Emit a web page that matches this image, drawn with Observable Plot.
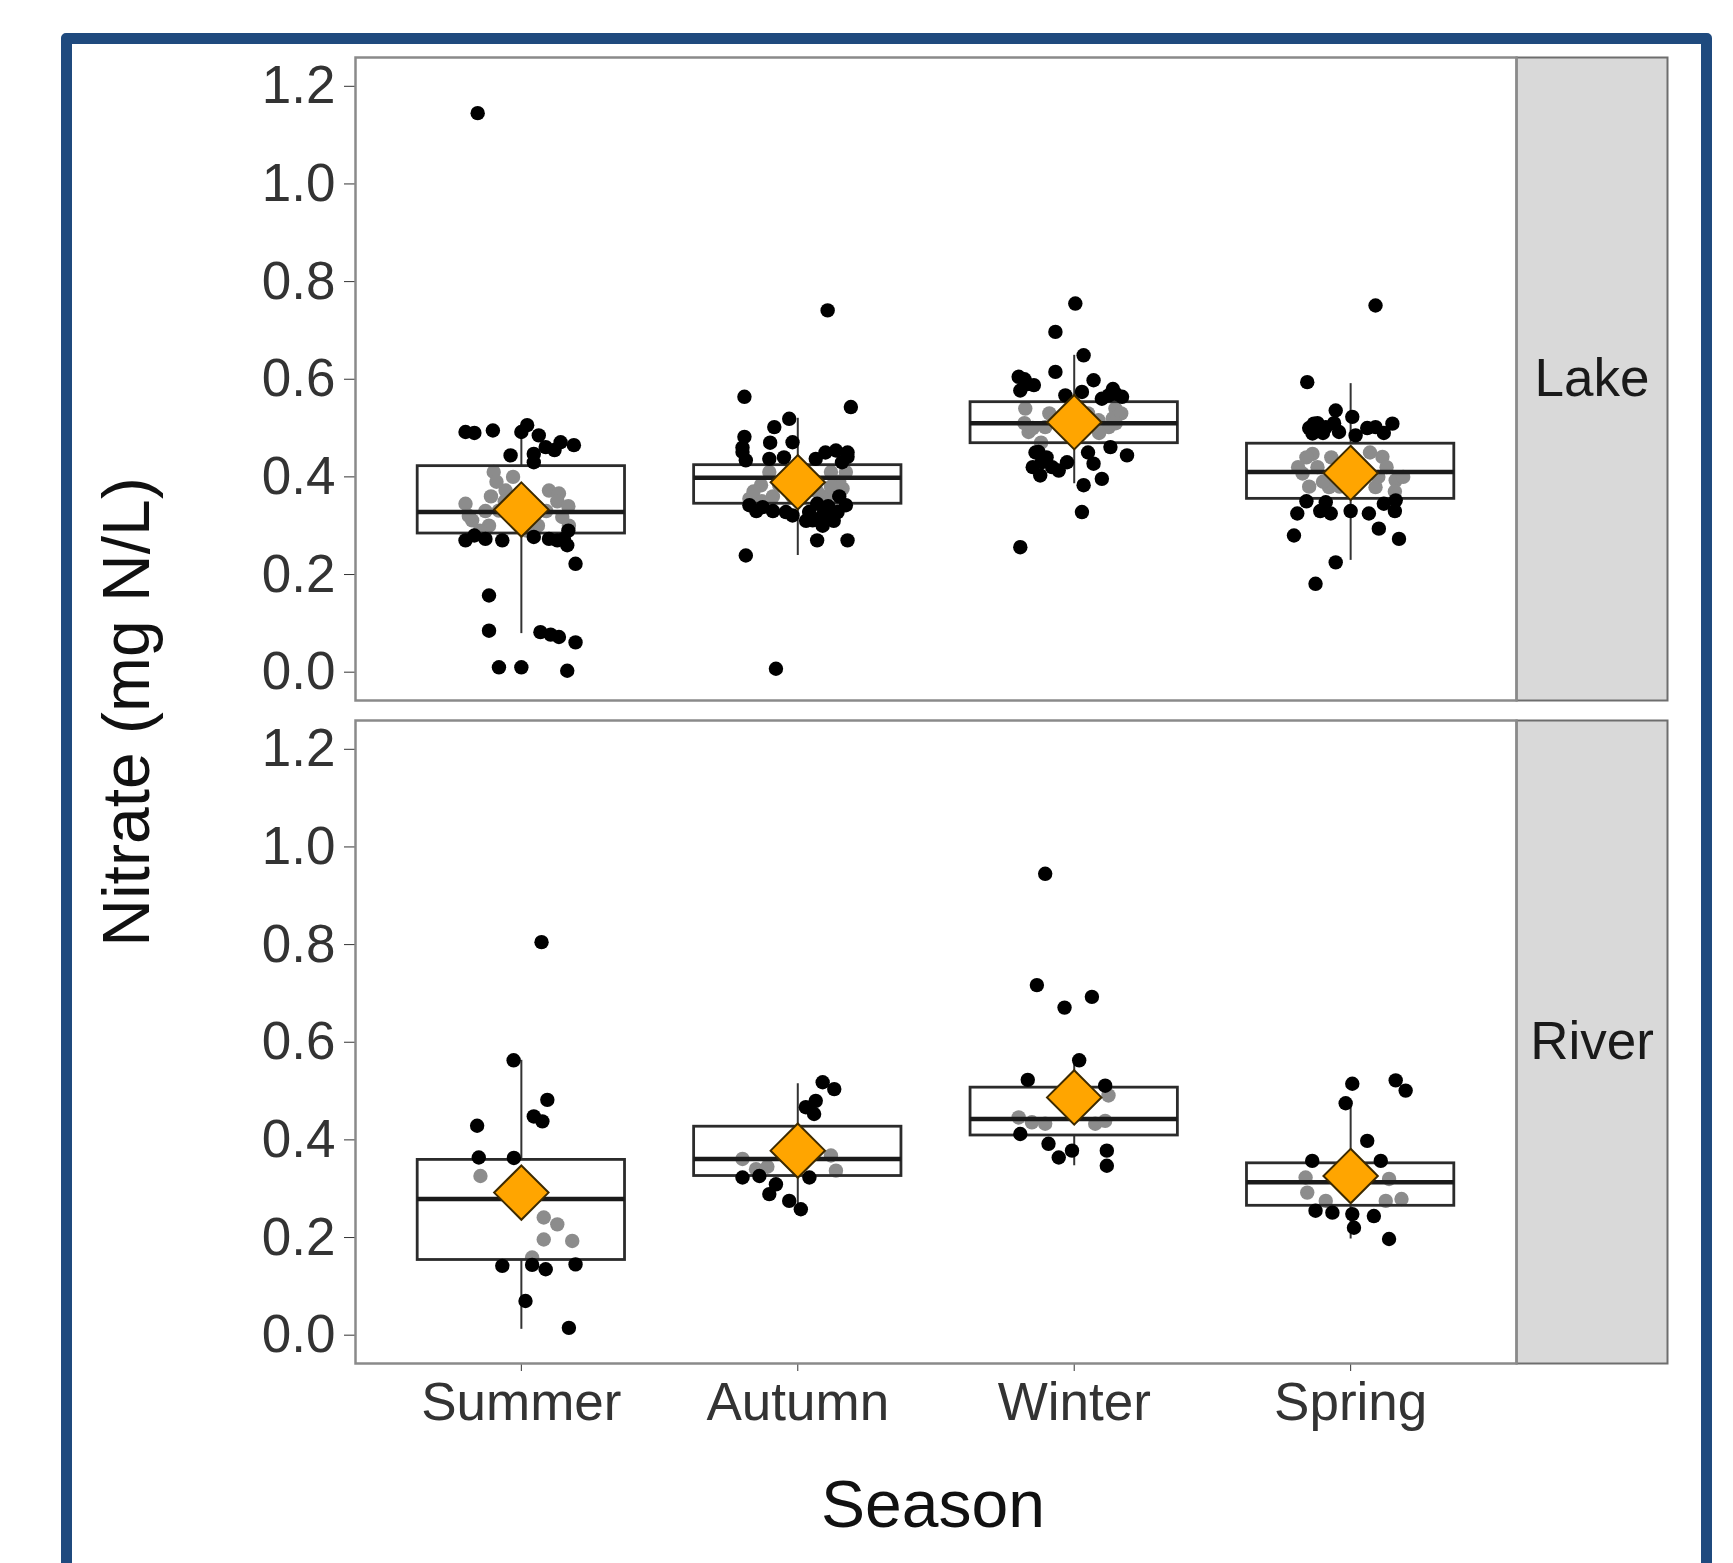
<!DOCTYPE html>
<html><head><meta charset="utf-8">
<script src="https://cdn.jsdelivr.net/npm/d3@7"></script>
<script src="https://cdn.jsdelivr.net/npm/@observablehq/plot@0.6"></script>
<style>
html,body{margin:0;padding:0;background:#fff;}
#wrap{position:relative;width:1733px;height:1563px;overflow:hidden;background:#fff;}
#chart{position:absolute;left:0;top:0;}
#border{position:absolute;left:61px;top:33px;width:1651px;height:1620px;border:11px solid #1f4a7e;border-radius:5px;box-sizing:border-box;pointer-events:none;}
</style></head>
<body><div id="wrap"><div id="chart"></div><div id="border"></div></div>
<script>
const sites = ["Lake", "River"];
const seasons = ["Summer", "Autumn", "Winter", "Spring"];
const yTicks = [0, 0.2, 0.4, 0.6, 0.8, 1.0, 1.2];

// Box statistics, in season order
const lakeQ1 = [0.284, 0.345, 0.469, 0.355];
const lakeMedian = [0.328, 0.398, 0.510, 0.410];
const lakeQ3 = [0.422, 0.424, 0.553, 0.468];
const lakeWhiskerLow = [0.079, 0.239, 0.386, 0.229];
const lakeWhiskerHigh = [0.492, 0.520, 0.649, 0.591];
const lakeMean = [0.333, 0.389, 0.512, 0.408];
const riverQ1 = [0.154, 0.326, 0.409, 0.265];
const riverMedian = [0.279, 0.361, 0.443, 0.313];
const riverQ3 = [0.359, 0.427, 0.507, 0.352];
const riverWhiskerLow = [0.012, 0.258, 0.347, 0.197];
const riverWhiskerHigh = [0.563, 0.515, 0.563, 0.475];
const riverMean = [0.292, 0.378, 0.487, 0.326];

// Jittered observations: [horizontal jitter (in category units), nitrate]
const lakeSummerBlack = [[-0.158,1.145],[-0.202,0.492],[-0.103,0.495],[0.021,0.506],[0.063,0.485],[0.0,0.492],[0.088,0.461],[0.142,0.471],[0.19,0.465],[0.12,0.455],[-0.17,0.49],[0.045,0.447],[-0.039,0.444],[0.045,0.430],[-0.202,0.270],[-0.130,0.273],[-0.069,0.270],[0.045,0.277],[0.1,0.273],[0.154,0.273],[0.166,0.260],[-0.17,0.28],[0.13,0.27],[0.17,0.29],[0.196,0.222],[-0.117,0.157],[-0.117,0.085],[0.069,0.082],[0.106,0.077],[0.136,0.072],[0.196,0.061],[-0.081,0.010],[0.0,0.010],[0.166,0.003]];
const lakeSummerGray = [[-0.1,0.41],[-0.202,0.345],[0.1,0.372],[0.136,0.366],[0.148,0.318],[0.172,0.30],[-0.178,0.311],[-0.117,0.30],[-0.057,0.372],[-0.081,0.331],[-0.06,0.35],[-0.13,0.33],[0.13,0.35],[0.06,0.30],[-0.15,0.29],[0.02,0.29],[-0.09,0.39],[-0.03,0.40],[0.09,0.33],[-0.11,0.36],[0.17,0.34],[-0.19,0.32]];
const lakeAutumnBlack = [[0.108,0.741],[-0.193,0.564],[0.192,0.543],[-0.085,0.502],[-0.031,0.519],[-0.193,0.482],[-0.1,0.47],[-0.019,0.471],[-0.2,0.451],[-0.2,0.46],[-0.188,0.434],[-0.103,0.437],[0.138,0.454],[0.18,0.45],[0.180,0.441],[0.065,0.437],[0.1,0.45],[-0.05,0.44],[0.16,0.43],[-0.175,0.342],[-0.127,0.338],[-0.09,0.33],[-0.043,0.328],[-0.019,0.321],[0.03,0.31],[0.054,0.311],[0.09,0.30],[0.09,0.321],[0.13,0.31],[0.11,0.34],[0.144,0.328],[0.174,0.342],[0.041,0.328],[0.12,0.33],[0.15,0.36],[-0.15,0.33],[0.07,0.345],[0.07,0.270],[0.18,0.270],[-0.188,0.239],[-0.079,0.007]];
const lakeAutumnGray = [[-0.175,0.355],[-0.133,0.383],[-0.103,0.41],[0.12,0.41],[0.162,0.376],[0.102,0.359],[0.174,0.41],[-0.067,0.383],[-0.16,0.37],[0.15,0.39],[-0.09,0.36],[-0.13,0.35],[0.07,0.37],[0.12,0.38],[-0.02,0.36]];
const lakeWinterBlack = [[0.004,0.755],[-0.068,0.697],[0.034,0.649],[-0.068,0.615],[-0.201,0.605],[-0.18,0.6],[-0.146,0.588],[-0.195,0.577],[0.07,0.598],[-0.032,0.567],[0.028,0.574],[0.125,0.567],[0.14,0.58],[0.173,0.564],[-0.17,0.59],[0.15,0.57],[0.1,0.56],[-0.129,0.451],[-0.14,0.45],[-0.117,0.43],[0.131,0.461],[0.191,0.444],[-0.026,0.43],[-0.056,0.413],[-0.08,0.42],[-0.123,0.403],[0.07,0.427],[0.1,0.396],[0.034,0.383],[-0.1,0.44],[0.05,0.45],[-0.15,0.42],[0.028,0.328],[-0.195,0.256]];
const lakeWinterGray = [[-0.177,0.54],[-0.165,0.492],[-0.105,0.502],[0.149,0.54],[0.125,0.502],[0.088,0.516],[-0.12,0.47],[0.14,0.52],[-0.18,0.51],[0.17,0.53],[-0.15,0.5],[0.09,0.49],[0.15,0.51],[-0.09,0.53],[0.05,0.53]];
const lakeSpringBlack = [[0.09,0.751],[-0.157,0.594],[-0.054,0.536],[0.006,0.523],[-0.133,0.509],[-0.12,0.51],[-0.09,0.502],[-0.138,0.489],[-0.042,0.492],[0.09,0.502],[0.06,0.5],[0.151,0.509],[0.018,0.485],[-0.1,0.49],[-0.06,0.51],[0.12,0.49],[-0.15,0.5],[-0.09,0.348],[0.163,0.352],[0.16,0.33],[-0.16,0.35],[0.0,0.33],[-0.11,0.33],[0.12,0.345],[-0.193,0.325],[-0.072,0.325],[0.066,0.325],[-0.205,0.28],[0.102,0.294],[0.175,0.273],[-0.054,0.225],[-0.127,0.181]];
const lakeSpringGray = [[-0.138,0.447],[-0.174,0.407],[-0.078,0.379],[0.115,0.441],[0.163,0.393],[0.09,0.379],[-0.12,0.42],[0.13,0.42],[-0.15,0.38],[0.16,0.37],[-0.07,0.44],[-0.16,0.44],[0.1,0.4],[-0.1,0.39],[0.07,0.45],[-0.04,0.38],[0.19,0.4],[-0.19,0.42]];
const riverSummerBlack = [[0.073,0.805],[-0.028,0.563],[0.094,0.482],[0.045,0.448],[0.076,0.438],[-0.16,0.429],[-0.154,0.364],[-0.027,0.363],[-0.069,0.142],[0.039,0.144],[0.088,0.135],[0.196,0.145],[0.015,0.07],[0.172,0.015]];
const riverSummerGray = [[-0.148,0.326],[0.081,0.241],[0.13,0.227],[0.081,0.196],[0.184,0.193],[0.039,0.159]];
const riverAutumnBlack = [[0.09,0.518],[0.132,0.504],[0.065,0.48],[0.029,0.467],[0.059,0.453],[-0.2,0.323],[-0.139,0.326],[-0.079,0.309],[-0.103,0.289],[-0.031,0.275],[0.011,0.258],[0.042,0.323]];
const riverAutumnGray = [[-0.2,0.361],[-0.151,0.34],[0.12,0.368],[0.138,0.337],[-0.11,0.345]];
const riverWinterBlack = [[-0.105,0.945],[-0.135,0.717],[0.064,0.693],[-0.035,0.671],[0.018,0.563],[-0.168,0.523],[0.112,0.511],[-0.195,0.412],[-0.093,0.392],[-0.056,0.364],[-0.008,0.378],[0.118,0.378],[0.118,0.347]];
const riverWinterGray = [[-0.201,0.446],[-0.153,0.436],[-0.105,0.433],[0.076,0.433],[0.124,0.491],[0.112,0.439]];
const riverSpringBlack = [[0.006,0.515],[0.163,0.522],[0.199,0.501],[-0.018,0.475],[0.06,0.398],[-0.139,0.357],[0.109,0.357],[-0.127,0.255],[-0.066,0.251],[0.006,0.248],[0.084,0.244],[0.012,0.22],[0.139,0.197]];
const riverSpringGray = [[-0.163,0.323],[-0.157,0.292],[-0.09,0.275],[0.139,0.32],[0.184,0.279],[0.127,0.275]];

// ---- build tables ----
const boxStats = {
  Lake: [lakeQ1, lakeMedian, lakeQ3, lakeWhiskerLow, lakeWhiskerHigh, lakeMean],
  River: [riverQ1, riverMedian, riverQ3, riverWhiskerLow, riverWhiskerHigh, riverMean]
};
const boxes = [];
for (const site of sites) {
  const [q1, med, q3, lo, hi, mean] = boxStats[site];
  seasons.forEach((s, i) => boxes.push({site, x: i + 1, q1: q1[i], median: med[i], q3: q3[i], lo: lo[i], hi: hi[i], mean: mean[i]}));
}
const groups = {
  Lake: [[lakeSummerBlack, lakeSummerGray], [lakeAutumnBlack, lakeAutumnGray], [lakeWinterBlack, lakeWinterGray], [lakeSpringBlack, lakeSpringGray]],
  River: [[riverSummerBlack, riverSummerGray], [riverAutumnBlack, riverAutumnGray], [riverWinterBlack, riverWinterGray], [riverSpringBlack, riverSpringGray]]
};
const blackPts = [], grayPts = [];
for (const site of sites) {
  groups[site].forEach(([blk, gry], i) => {
    blk.forEach(([j, v]) => blackPts.push({site, x: i + 1 + j, v}));
    gry.forEach(([j, v]) => grayPts.push({site, x: i + 1 + j, v}));
  });
}

const W = 1733, H = 1563, mL = 355, mR = 217, mT = 57, mB = 200, stripW = 151;
const panelW = W - mL - mR;
const halfBox = 0.375;
const font = "'Liberation Sans', Arial, Helvetica, sans-serif";

const chart = Plot.plot({
  width: W, height: H,
  marginLeft: mL, marginRight: mR, marginTop: mT, marginBottom: mB,
  style: {fontFamily: font, fontSize: "53px", color: "#333", background: "transparent"},
  x: {type: "linear", domain: [0.4, 4.6], ticks: [1, 2, 3, 4], tickFormat: i => seasons[i - 1], tickSize: 8, tickPadding: 11, label: null},
  y: {domain: [-0.058, 1.259], ticks: yTicks, tickFormat: d3.format(".1f"), tickSize: 11, tickPadding: 9, label: null},
  fy: {domain: sites, paddingInner: 20 / 663, paddingOuter: 0, axis: null, label: null},
  marks: [
    Plot.frame({fill: "#d9d9d9", stroke: "#6e6e6e", strokeWidth: 2, insetLeft: panelW, insetRight: -stripW}),
    Plot.frame({stroke: "#8a8a8a", strokeWidth: 2.5}),
    Plot.rect(boxes, {fy: "site", x1: d => d.x - halfBox, x2: d => d.x + halfBox, y1: "q1", y2: "q3", fill: "white"}),
    Plot.dot(grayPts, {fy: "site", x: "x", y: "v", r: 7.2, fill: "#8c8c8c"}),
    Plot.ruleX(boxes, {fy: "site", x: "x", y1: "q3", y2: "hi", stroke: "#333", strokeWidth: 2}),
    Plot.ruleX(boxes, {fy: "site", x: "x", y1: "lo", y2: "q1", stroke: "#333", strokeWidth: 2}),
    Plot.rect(boxes, {fy: "site", x1: d => d.x - halfBox, x2: d => d.x + halfBox, y1: "q1", y2: "q3", fill: "none", stroke: "#2b2b2b", strokeWidth: 2.8}),
    Plot.ruleY(boxes, {fy: "site", y: "median", x1: d => d.x - halfBox, x2: d => d.x + halfBox, stroke: "#1a1a1a", strokeWidth: 4.5}),
    Plot.dot(blackPts, {fy: "site", x: "x", y: "v", r: 7.2, fill: "#000"}),
    Plot.dot(boxes, {fy: "site", x: "x", y: "mean", symbol: "diamond2", r: 24.5, fill: "#FFA500", stroke: "#3d2a00", strokeWidth: 2}),
    Plot.text(sites, {fy: d => d, text: d => d, frameAnchor: "right", dx: stripW / 2, textAnchor: "middle", fontSize: 53, fill: "#1a1a1a"})
  ]
});
document.getElementById("chart").appendChild(chart);

// axis titles
const svg = d3.select(chart);
svg.append("text")
  .attr("transform", "translate(149,712) rotate(-90)")
  .attr("text-anchor", "middle")
  .attr("font-family", font).attr("font-size", 66).attr("fill", "#111")
  .text("Nitrate (mg N/L)");
svg.append("text")
  .attr("x", 933).attr("y", 1527)
  .attr("text-anchor", "middle")
  .attr("font-family", font).attr("font-size", 66).attr("fill", "#111")
  .text("Season");
</script>
</body></html>
